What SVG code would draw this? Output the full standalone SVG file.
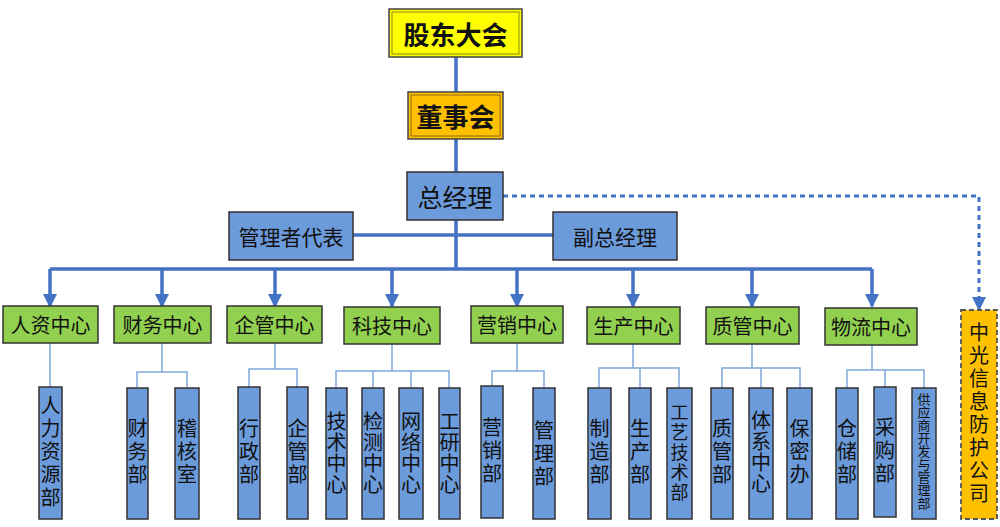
<svg xmlns="http://www.w3.org/2000/svg" width="1000" height="527" viewBox="0 0 1000 527">
<style>
text{font-family:"Noto Sans CJK SC","Noto Sans",sans-serif;fill:#111;}
.h{text-anchor:middle;dominant-baseline:central;}
.v{writing-mode:vertical-rl;text-anchor:middle;font-size:20px;}
.blue{fill:#6C9BDB;stroke:#333;stroke-width:1.5;}
.green{fill:#92D050;stroke:#333;stroke-width:1.5;}
.thick{stroke:#4472C4;stroke-width:3.5;fill:none;}
.thin{stroke:#7FA6DC;stroke-width:1.5;fill:none;}
.dash{stroke:#4472C4;stroke-width:3;fill:none;stroke-dasharray:5 4;}
</style>
<defs>
<marker id="arr" markerUnits="userSpaceOnUse" markerWidth="14" markerHeight="14" refX="7" refY="12" orient="0" viewBox="0 0 14 14">
<path d="M0,0 L14,0 L7,14 Z" fill="#4472C4"/>
</marker>
</defs>
<rect width="1000" height="527" fill="#fff"/>
<g id="connectors">
<path class="thick" d="M456,57 V92 M456,139 V172 M456,220 V269 M353,235 H553 M50,269 H872"/>
<path class="thick" marker-end="url(#arr)" d="M50,269 V306"/>
<path class="thick" marker-end="url(#arr)" d="M162,269 V306"/>
<path class="thick" marker-end="url(#arr)" d="M275,269 V306"/>
<path class="thick" marker-end="url(#arr)" d="M392,269 V306"/>
<path class="thick" marker-end="url(#arr)" d="M517,269 V306"/>
<path class="thick" marker-end="url(#arr)" d="M633,269 V306"/>
<path class="thick" marker-end="url(#arr)" d="M752,269 V306"/>
<path class="thick" marker-end="url(#arr)" d="M872,269 V306"/>
<path class="dash" marker-end="url(#arr)" d="M503,196 H979 V309"/>
<path class="thin" d="M50,343 V387"/>
<path class="thin" d="M162,343 V372 M137,387 V372 H187 V387"/>
<path class="thin" d="M275,343 V369 M249,387 V369 H297 V387"/>
<path class="thin" d="M392,343 V371 M336,388 V371 H449 V388 M373,371 V388 M411,371 V388"/>
<path class="thin" d="M517,343 V371 M492,387 V371 H544 V388"/>
<path class="thin" d="M633,343 V368 M599,388 V368 H679 V388 M640,368 V388"/>
<path class="thin" d="M752,343 V368 M722,388 V368 H800 V388 M761,368 V388"/>
<path class="thin" d="M872,343 V370 M847,388 V370 H924 V388 M885,370 V387"/>
</g>
<g id="gudong">
<rect x="389" y="9" width="133" height="48" fill="#FFFF00" stroke="#444" stroke-width="1.5"/>
<rect x="392" y="12" width="127" height="42" fill="none" stroke="#8A8A10" stroke-width="1"/>
<text class="h" x="455.5" y="33" font-size="26" font-weight="bold">股东大会</text>
</g>
<g id="dongshi">
<rect x="408" y="92" width="95" height="47" fill="#FFC000" stroke="#444" stroke-width="1.5"/>
<rect x="411" y="95" width="89" height="41" fill="none" stroke="#8A6A10" stroke-width="1"/>
<text class="h" x="455.5" y="115.5" font-size="26" font-weight="bold">董事会</text>
</g>
<g id="zongjingli">
<rect class="blue" x="407" y="172" width="96" height="48"/>
<text class="h" x="455" y="196" font-size="25">总经理</text>
</g>
<g id="guanlizhe">
<rect class="blue" x="229" y="212" width="124" height="48"/>
<text class="h" x="291" y="236" font-size="21">管理者代表</text>
</g>
<g id="fuzong">
<rect class="blue" x="553" y="212" width="124" height="48"/>
<text class="h" x="615" y="236" font-size="21">副总经理</text>
</g>
<g id="renzi"><rect class="green" x="3" y="306" width="95" height="37"/><text class="h" x="50.5" y="324.5" font-size="20">人资中心</text></g>
<g id="caiwu"><rect class="green" x="114" y="306" width="97" height="37"/><text class="h" x="162.5" y="324.5" font-size="20">财务中心</text></g>
<g id="qiguan"><rect class="green" x="227" y="306" width="95" height="37"/><text class="h" x="274.5" y="324.5" font-size="20">企管中心</text></g>
<g id="keji"><rect class="green" x="344" y="307" width="96" height="37"/><text class="h" x="392" y="325.5" font-size="20">科技中心</text></g>
<g id="yingxiao"><rect class="green" x="471" y="306" width="92" height="37"/><text class="h" x="517" y="324.5" font-size="20">营销中心</text></g>
<g id="shengchan"><rect class="green" x="587" y="307" width="93" height="37"/><text class="h" x="633.5" y="325.5" font-size="20">生产中心</text></g>
<g id="zhiguan"><rect class="green" x="706" y="307" width="93" height="37"/><text class="h" x="752.5" y="325.5" font-size="20">质管中心</text></g>
<g id="wuliu"><rect class="green" x="825" y="308" width="92" height="37"/><text class="h" x="871" y="326.5" font-size="20">物流中心</text></g>
<g id="zhongguang">
<rect x="961" y="310" width="36" height="209" fill="#FFC000" stroke="#555" stroke-width="1.8" stroke-dasharray="5 3"/>
<text class="v" x="979" y="414.5" letter-spacing="3">中光信息防护公司</text>
</g>
<g id="renliziyuan"><rect class="blue" x="39" y="387" width="23" height="132"/><text class="v" x="50.5" y="453" letter-spacing="3">人力资源部</text></g>
<g id="caiwubu"><rect class="blue" x="127" y="388" width="21" height="131"/><text class="v" x="137.5" y="453" letter-spacing="3">财务部</text></g>
<g id="jihe"><rect class="blue" x="175" y="388" width="24" height="131"/><text class="v" x="187" y="453" letter-spacing="3">稽核室</text></g>
<g id="xingzheng"><rect class="blue" x="238" y="387" width="22" height="132"/><text class="v" x="249" y="453" letter-spacing="3">行政部</text></g>
<g id="qiguanbu"><rect class="blue" x="287" y="387" width="21" height="132"/><text class="v" x="297.5" y="453" letter-spacing="3">企管部</text></g>
<g id="jishu"><rect class="blue" x="326" y="388" width="21" height="131"/><text class="v" x="336.5" y="453" letter-spacing="1">技术中心</text></g>
<g id="jiance"><rect class="blue" x="362" y="388" width="22" height="131"/><text class="v" x="373" y="453" letter-spacing="1">检测中心</text></g>
<g id="wangluo"><rect class="blue" x="399" y="388" width="24" height="131"/><text class="v" x="411" y="453" letter-spacing="1">网络中心</text></g>
<g id="gongyan"><rect class="blue" x="439" y="388" width="21" height="131"/><text class="v" x="449.5" y="453" letter-spacing="1">工研中心</text></g>
<g id="yingxiaobu"><rect class="blue" x="481" y="386" width="22" height="132"/><text class="v" x="492" y="452" letter-spacing="3">营销部</text></g>
<g id="guanlibu"><rect class="blue" x="533" y="388" width="22" height="131"/><text class="v" x="544" y="455" letter-spacing="3">管理部</text></g>
<g id="zhizao"><rect class="blue" x="588" y="388" width="23" height="131"/><text class="v" x="599.5" y="453" letter-spacing="3">制造部</text></g>
<g id="shengchanbu"><rect class="blue" x="629" y="388" width="22" height="131"/><text class="v" x="640" y="453" letter-spacing="3">生产部</text></g>
<g id="gongyi"><rect class="blue" x="667" y="388" width="25" height="131"/><text class="v" x="679.5" y="453" style="font-size:18px" letter-spacing="2">工艺技术部</text></g>
<g id="zhiguanbu"><rect class="blue" x="711" y="388" width="22" height="131"/><text class="v" x="722" y="453" letter-spacing="3">质管部</text></g>
<g id="tixi"><rect class="blue" x="749" y="388" width="24" height="131"/><text class="v" x="761" y="452" letter-spacing="1">体系中心</text></g>
<g id="baomi"><rect class="blue" x="787" y="388" width="25" height="131"/><text class="v" x="799.5" y="453" letter-spacing="3">保密办</text></g>
<g id="cangchu"><rect class="blue" x="836" y="388" width="22" height="131"/><text class="v" x="847" y="453" letter-spacing="3">仓储部</text></g>
<g id="caigou"><rect class="blue" x="874" y="387" width="22" height="130"/><text class="v" x="885" y="452" letter-spacing="3">采购部</text></g>
<g id="gongyingshang"><rect class="blue" x="912" y="388" width="24" height="131"/><text class="v" x="924" y="451" style="font-size:13px">供应商开发与管理部</text></g>
</svg>
